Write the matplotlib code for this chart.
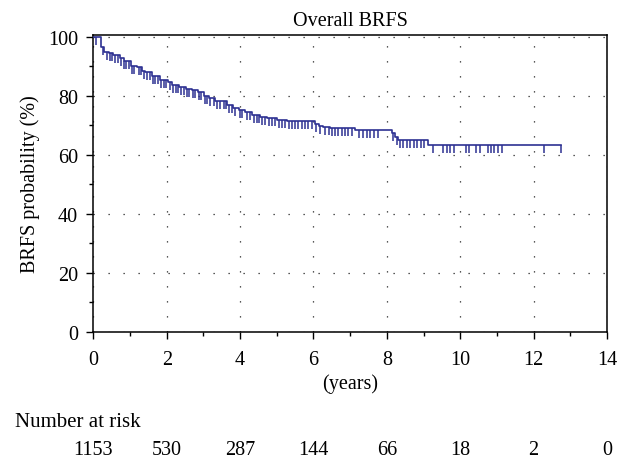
import numpy as np
import matplotlib.pyplot as plt
import matplotlib.transforms as mtransforms
from matplotlib.ticker import MultipleLocator

# Kaplan-Meier steps (years, %)
event_times = [0, 0.22, 0.30, 0.42, 0.54, 0.72, 0.83, 1.03, 1.19, 1.33,
               1.42, 1.60, 1.83, 2.03, 2.14, 2.33, 2.53, 2.69, 2.84, 3.02,
               3.14, 3.32, 3.64, 3.82, 3.96, 4.14, 4.32, 4.55, 4.73, 5.00,
               5.28, 6.05, 6.14, 6.27, 6.44, 7.14, 8.14, 8.23, 8.31, 9.13,
               12.75]
survival = [100, 96.6, 94.9, 94.4, 93.8, 92.7, 91.9, 90.2, 89.6, 88.5,
            87.9, 86.8, 85.3, 84.5, 83.7, 83.1, 82.3, 81.9, 81.4, 80.0,
            79.1, 78.3, 76.8, 75.7, 75.2, 74.4, 73.5, 72.9, 72.3, 71.8,
            71.4, 70.4, 69.8, 69.3, 68.9, 68.4, 67.3, 66.1, 65.1, 63.2,
            63.2]

# censored observations (years)
censor_times = [0.08, 0.27, 0.36, 0.45, 0.51, 0.60, 0.66, 0.75, 0.84, 0.90,
                0.97, 1.05, 1.12, 1.24, 1.30, 1.37, 1.46, 1.55, 1.62, 1.69,
                1.77, 1.84, 1.92, 1.99, 2.08, 2.17, 2.24, 2.30, 2.39, 2.46,
                2.55, 2.62, 2.71, 2.78, 2.87, 2.93, 3.05, 3.11, 3.19, 3.28,
                3.37, 3.46, 3.55, 3.61, 3.69, 3.78, 3.87, 3.99, 4.05, 4.19,
                4.28, 4.37, 4.46, 4.52, 4.59, 4.69, 4.78, 4.87, 4.96, 5.05,
                5.14, 5.23, 5.32, 5.41, 5.50, 5.59, 5.68, 5.77, 5.86, 5.96,
                6.08, 6.18, 6.32, 6.41, 6.50, 6.59, 6.68, 6.77, 6.86, 6.95,
                7.04, 7.23, 7.36, 7.46, 7.55, 7.65, 7.75, 8.17, 8.27, 8.36,
                8.45, 8.55, 8.64, 8.73, 8.82, 8.93, 9.02, 9.25, 9.54, 9.63,
                9.72, 9.82, 10.15, 10.25, 10.43, 10.54, 10.75, 10.84, 10.93,
                11.04, 11.13, 12.27, 12.75]

risk_times = [0, 2, 4, 6, 8, 10, 12, 14]
at_risk = [1153, 530, 287, 144, 66, 18, 2, 0]

plt.rcParams['font.family'] = ['Liberation Serif', 'DejaVu Serif']
plt.rcParams['font.size'] = 14.5
col = '#2e3192'

fig = plt.figure(figsize=(6.28, 4.6), dpi=100)
ax = fig.add_axes([0.1486, 0.2767, 0.818, 0.6444])

ax.step(event_times, survival, where='post', color=col, lw=1.2, zorder=3)
idx = np.searchsorted(event_times, censor_times, side='right') - 1
cy = np.array(survival)[idx]
ax.plot(censor_times, cy, linestyle='none', marker=3, markersize=5.8,
        markeredgewidth=1.1, color=col, zorder=3)

ax.set_xlim(0, 14)
ax.set_ylim(0, 100.5)
ax.xaxis.set_major_locator(MultipleLocator(2))
ax.xaxis.set_minor_locator(MultipleLocator(1))
ax.yaxis.set_major_locator(MultipleLocator(20))
ax.yaxis.set_minor_locator(MultipleLocator(10))
ax.tick_params(which='major', direction='out', length=5, width=1.0)
ax.tick_params(which='minor', direction='out', length=3, width=1.0)
ax.tick_params(axis='x', which='major', pad=8)
ax.tick_params(axis='y', which='major', pad=6)
ax.grid(True, which='major', color='#222222', linestyle=(0, (1, 11)), lw=0.9)
for s in ax.spines.values():
    s.set_linewidth(1.1)

ax.set_title('Overall BRFS', fontsize=14.5, pad=7.5)
ax.set_ylabel('BRFS probability (%)', fontsize=14.5, labelpad=6)
ax.set_xlabel('(years)', fontsize=14.5, labelpad=3)

trans = mtransforms.blended_transform_factory(ax.transData, fig.transFigure)
fig.text(0.024, 0.082, 'Number at risk', ha='left', va='center', fontsize=15)
for t, n in zip(risk_times, at_risk):
    ax.text(t, 0.020, str(n), transform=trans, ha='center', va='center',
            fontsize=14.5, clip_on=False)

fig.savefig('out.png', dpi=100)
